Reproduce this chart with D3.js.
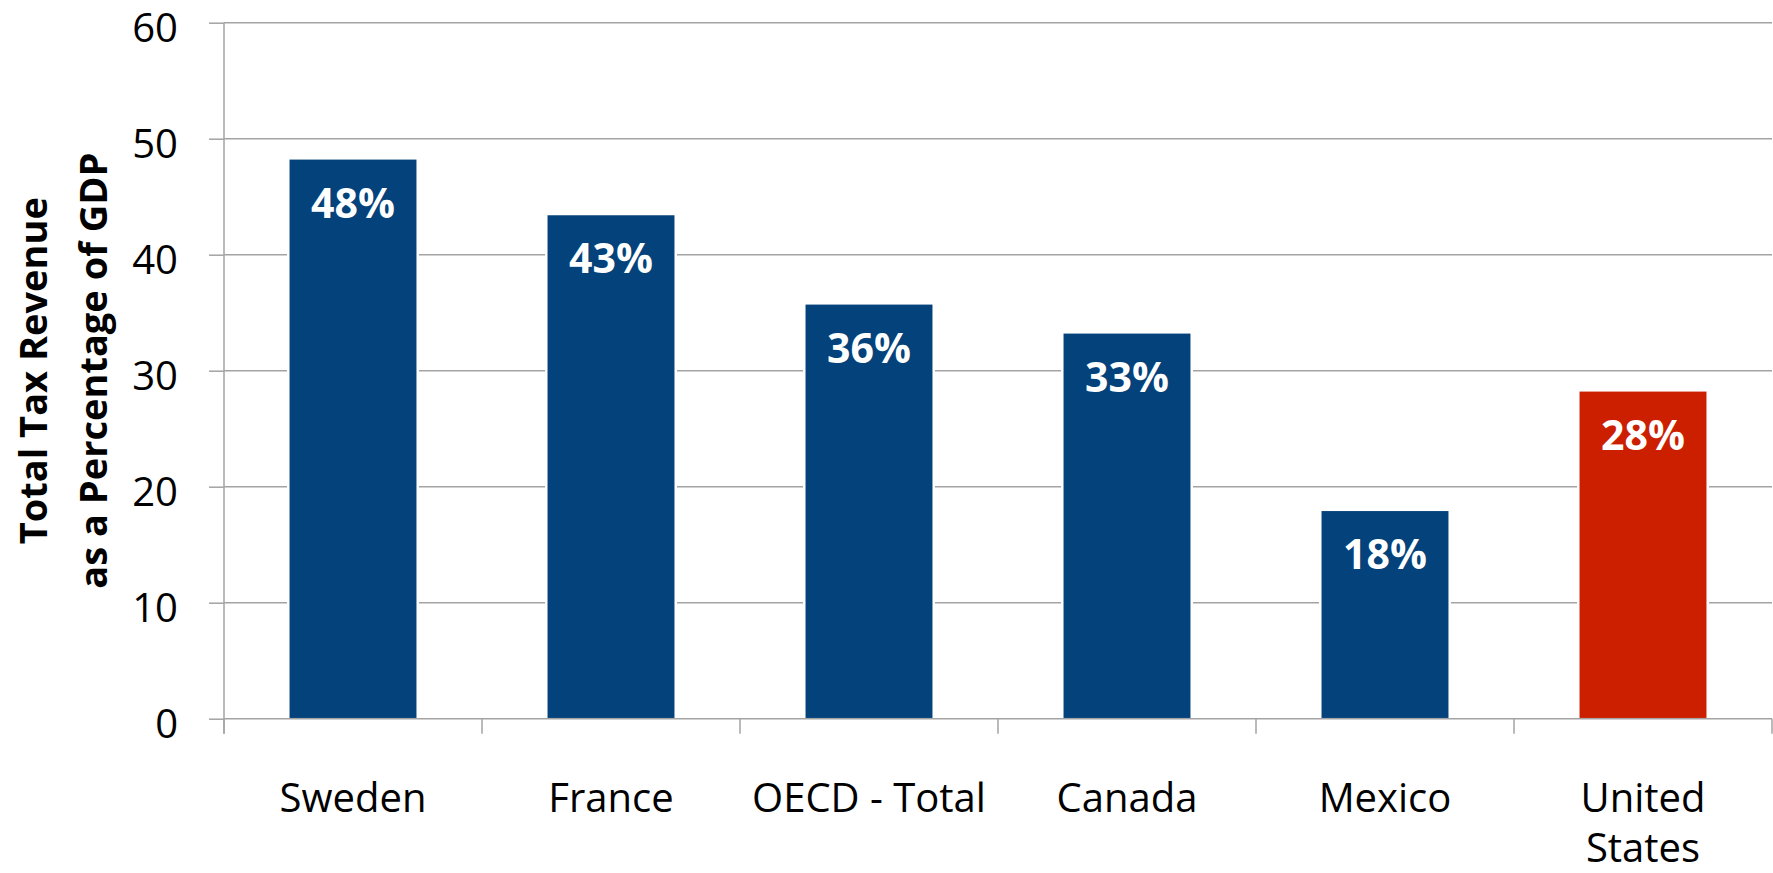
<!DOCTYPE html>
<html>
<head>
<meta charset="utf-8">
<script src="https://cdn.jsdelivr.net/npm/d3@7"></script>
<style>
  body { margin: 0; background: #fff; }
  svg { display: block; font-family: "Open Sans", sans-serif; }
</style>
</head>
<body>
<svg id="chart" width="1773" height="873"></svg>
<script>
// Daten
const countries = ["Sweden", "France", "OECD - Total", "Canada", "Mexico", "United States"];
const revenue = [48.2, 43.4, 35.7, 33.2, 17.9, 28.2];
const valueLabels = ["48%", "43%", "36%", "33%", "18%", "28%"];
const yTicks = [0, 10, 20, 30, 40, 50, 60];
const titleLines = ["Total Tax Revenue", "as a Percentage of GDP"];

const blue = "#03427a";
const red = "#cc1f00";
const gridColor = "#a3a3a3";

const svg = d3.select("#chart");
const plotLeft = 224, plotRight = 1772, plotTop = 22.7, plotBottom = 718.7;

const x = d3.scaleBand()
    .domain(countries)
    .range([plotLeft, plotRight])
    .paddingInner(0.508)
    .paddingOuter(0.254);

const y = d3.scaleLinear()
    .domain([0, 60])
    .range([plotBottom, plotTop]);

// Gitterlinien + y-Achse
const yAxis = d3.axisLeft(y)
    .tickValues(yTicks)
    .tickSize(15)
    .tickPadding(31)
    .tickFormat(d3.format("d"));

const gy = svg.append("g")
    .attr("transform", "translate(" + plotLeft + ",0)")
    .call(yAxis);
gy.select(".domain").remove();
gy.selectAll(".tick line").attr("stroke", gridColor).attr("stroke-width", 1.5);
gy.selectAll(".tick text")
    .attr("font-family", "Open Sans")
    .attr("font-size", 40)
    .attr("fill", "#000")
    .attr("dy", "0.48em");

svg.append("g")
    .selectAll("line")
    .data(yTicks)
    .enter().append("line")
    .attr("x1", plotLeft)
    .attr("x2", plotRight)
    .attr("y1", d => y(d))
    .attr("y2", d => y(d))
    .attr("stroke", gridColor)
    .attr("stroke-width", 1.5);

// senkrechte Achse
svg.append("line")
    .attr("x1", plotLeft).attr("x2", plotLeft)
    .attr("y1", y(60)).attr("y2", y(0) + 15)
    .attr("stroke", gridColor)
    .attr("stroke-width", 1.5);

// Kategorie-Trennstriche unten
const boundaries = d3.range(countries.length + 1).map(i => plotLeft + i * x.step());
svg.append("g")
    .selectAll("line")
    .data(boundaries)
    .enter().append("line")
    .attr("x1", d => d).attr("x2", d => d)
    .attr("y1", y(0)).attr("y2", y(0) + 15)
    .attr("stroke", gridColor)
    .attr("stroke-width", 1.5);

// Balken (weisser Rand schneidet die Gitterlinien)
const bars = svg.append("g")
    .selectAll("g")
    .data(countries)
    .enter().append("g");

bars.append("rect")
    .attr("x", d => x(d) - 2.5)
    .attr("width", x.bandwidth() + 5)
    .attr("y", (d, i) => y(revenue[i]))
    .attr("height", (d, i) => y(0) - y(revenue[i]) - 1)
    .attr("fill", "#fff");

bars.append("rect")
    .attr("x", d => x(d))
    .attr("width", x.bandwidth())
    .attr("y", (d, i) => y(revenue[i]))
    .attr("height", (d, i) => y(0) - y(revenue[i]) - 0.75)
    .attr("fill", (d, i) => d === "United States" ? red : blue);

bars.append("text")
    .attr("x", d => x(d) + x.bandwidth() / 2)
    .attr("y", (d, i) => y(revenue[i]) + 58)
    .attr("text-anchor", "middle")
    .attr("font-size", 41)
    .attr("font-weight", "bold")
    .attr("fill", "#fff")
    .text((d, i) => valueLabels[i]);

// Kategorienamen
const catLabels = svg.append("g")
    .selectAll("text")
    .data(countries)
    .enter().append("text")
    .attr("x", d => x(d) + x.bandwidth() / 2)
    .attr("y", 812)
    .attr("text-anchor", "middle")
    .attr("font-size", 40)
    .attr("fill", "#000");

catLabels.each(function(d) {
    const words = d === "United States" ? ["United", "States"] : [d];
    const t = d3.select(this);
    words.forEach((w, i) => {
        t.append("tspan")
            .attr("x", x(d) + x.bandwidth() / 2)
            .attr("dy", i === 0 ? 0 : 50)
            .text(w);
    });
});

// Achsentitel
const title = svg.append("text")
    .attr("transform", "translate(0," + ((plotTop + plotBottom) / 2) + ") rotate(-90)")
    .attr("text-anchor", "middle")
    .attr("font-size", 38)
    .attr("font-weight", "bold")
    .attr("fill", "#000");

title.selectAll("tspan")
    .data(titleLines)
    .enter().append("tspan")
    .attr("x", 0)
    .attr("y", (d, i) => 47 + i * 60)
    .text(d => d);
</script>
</body>
</html>
